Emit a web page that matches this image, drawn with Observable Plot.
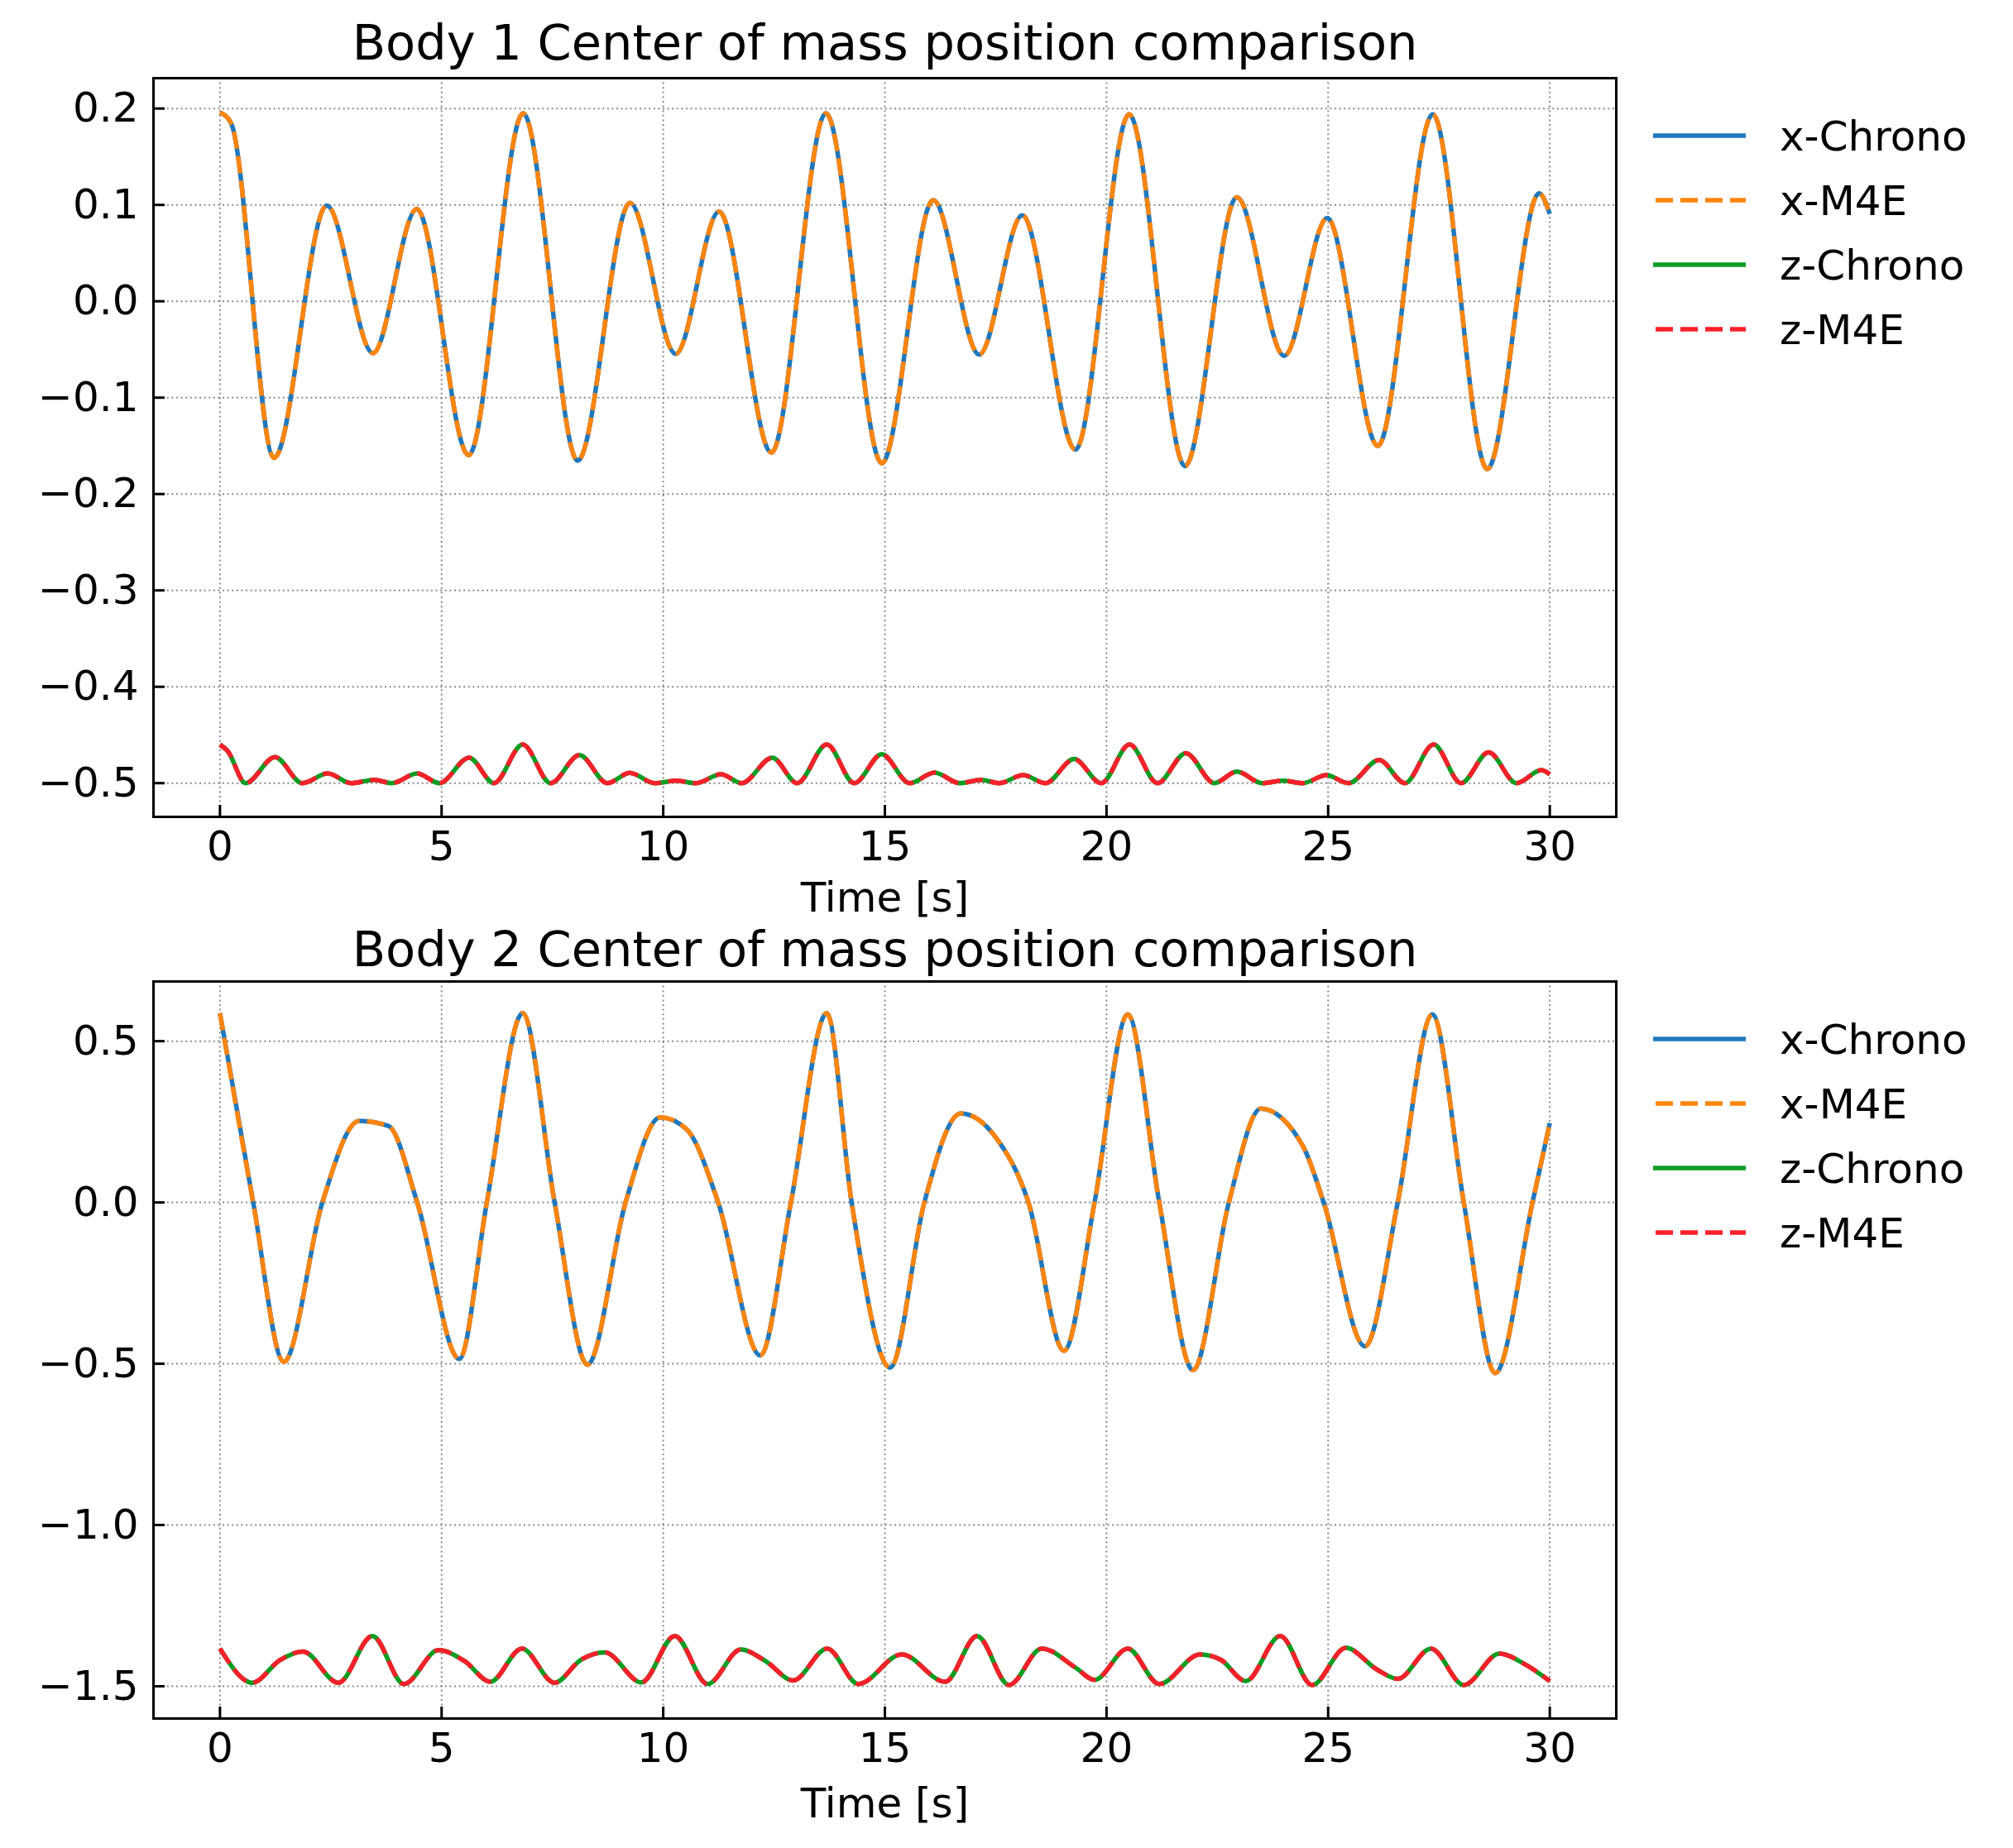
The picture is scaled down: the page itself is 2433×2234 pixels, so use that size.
<!DOCTYPE html>
<html>
<head>
<meta charset="utf-8">
<script src="https://cdn.jsdelivr.net/npm/d3@7"></script>
<script src="https://cdn.jsdelivr.net/npm/@observablehq/plot@0.6"></script>
<style>
  html, body { margin: 0; padding: 0; background: #ffffff; }
  #wrap { position: relative; width: 2433px; height: 2234px; font-family: "DejaVu Sans"; }
  #wrap svg { position: absolute; left: 0; display: block; }
</style>
</head>
<body>
<div id="wrap"></div>
<script>
// ---------- tick values ----------
const timeTicks = [0, 5, 10, 15, 20, 25, 30];
const body1YTicks = [-0.5, -0.4, -0.3, -0.2, -0.1, 0.0, 0.1, 0.2];
const body2YTicks = [-1.5, -1.0, -0.5, 0.0, 0.5];

// ---------- series ----------
const seriesNames = ["x-Chrono", "x-M4E", "z-Chrono", "z-M4E"];
const seriesColors = ["#1f78be", "#ff850d", "#0c9c22", "#f8202a"];

// Body 1, x position [time, value] (read at extrema)
const body1XChrono = [
  [0, 0.196], [0.25, 0.185], [1.22, -0.1625], [2.41, 0.0993], [3.45, -0.0538], [4.44, 0.0956],
  [5.61, -0.1597], [6.84, 0.195], [8.07, -0.1654], [9.25, 0.102], [10.28, -0.0546],
  [11.26, 0.093], [12.44, -0.157], [13.67, 0.195], [14.93, -0.168], [16.09, 0.105],
  [17.13, -0.0552], [18.10, 0.0893], [19.30, -0.154], [20.51, 0.194], [21.77, -0.171],
  [22.94, 0.108], [24.01, -0.0566], [24.98, 0.0864], [26.12, -0.150], [27.36, 0.194],
  [28.59, -0.174], [29.76, 0.112], [30.0, 0.0907]
];
// M4E is indistinguishable from Chrono in the picture
const body1XM4E = body1XChrono.map(d => d.slice());

// Body 1, z position
const body1ZChrono = [
  [0, -0.460], [0.17, -0.4665], [0.58, -0.500], [1.24, -0.473], [1.86, -0.500], [2.43, -0.490],
  [2.96, -0.500], [3.48, -0.4966], [3.88, -0.500], [4.45, -0.490], [4.95, -0.500],
  [5.62, -0.4736], [6.18, -0.500], [6.83, -0.460], [7.46, -0.500], [8.11, -0.4708],
  [8.74, -0.500], [9.25, -0.4894], [9.81, -0.500], [10.29, -0.4974], [10.74, -0.500],
  [11.30, -0.4908], [11.77, -0.500], [12.46, -0.4736], [13.02, -0.500], [13.69, -0.460],
  [14.31, -0.500], [14.93, -0.470], [15.56, -0.500], [16.12, -0.489], [16.69, -0.500],
  [17.17, -0.4966], [17.58, -0.500], [18.12, -0.4917], [18.62, -0.500], [19.27, -0.475],
  [19.88, -0.500], [20.52, -0.460], [21.15, -0.500], [21.79, -0.4688], [22.43, -0.500],
  [22.94, -0.488], [23.51, -0.500], [23.98, -0.4974], [24.43, -0.500], [24.96, -0.4917],
  [25.46, -0.500], [26.15, -0.476], [26.73, -0.500], [27.38, -0.460], [28.00, -0.500],
  [28.62, -0.468], [29.25, -0.500], [29.81, -0.4865], [30.0, -0.4908]
];
const body1ZM4E = body1ZChrono.map(d => d.slice());

// Body 2, x position
const body2XChrono = [
  [0, 0.587], [0.75, 0.0], [1.44, -0.494], [2.31, 0.0], [3.14, 0.253], [3.80, 0.237],
  [4.45, 0.0], [5.40, -0.485], [6.02, 0.0], [6.83, 0.587], [7.55, 0.0], [8.29, -0.503],
  [9.15, 0.0], [9.93, 0.264], [10.52, 0.228], [11.24, 0.0], [12.19, -0.474], [12.88, 0.0],
  [13.69, 0.587], [14.25, 0.0], [15.12, -0.512], [15.89, 0.0], [16.71, 0.276], [17.50, 0.202],
  [18.24, 0.0], [19.04, -0.460], [19.73, 0.0], [20.48, 0.583], [21.19, 0.0], [21.95, -0.520],
  [22.76, 0.0], [23.48, 0.291], [24.43, 0.175], [24.90, 0.0], [25.83, -0.446], [26.57, 0.0],
  [27.35, 0.583], [28.06, 0.0], [28.77, -0.529], [29.61, 0.0], [30.0, 0.246]
];
const body2XM4E = body2XChrono.map(d => d.slice());

// Body 2, z position
const body2ZChrono = [
  [0, -1.383], [0.73, -1.489], [1.36, -1.418], [1.87, -1.392], [2.67, -1.489],
  [3.44, -1.344], [4.15, -1.493], [4.93, -1.388], [5.52, -1.422], [6.10, -1.486],
  [6.81, -1.383], [7.55, -1.489], [8.14, -1.418], [8.68, -1.395], [9.51, -1.488],
  [10.26, -1.344], [11.00, -1.493], [11.75, -1.386], [12.31, -1.422], [12.93, -1.482],
  [13.70, -1.383], [14.40, -1.493], [15.38, -1.401], [16.36, -1.486], [17.08, -1.344],
  [17.80, -1.496], [18.54, -1.383], [19.31, -1.443], [19.73, -1.480], [20.48, -1.383],
  [21.19, -1.493], [22.11, -1.401], [22.58, -1.418], [23.14, -1.484], [23.92, -1.344],
  [24.64, -1.496], [25.40, -1.381], [26.10, -1.448], [26.57, -1.477], [27.32, -1.383],
  [28.06, -1.496], [28.86, -1.399], [29.43, -1.431], [30.0, -1.484]
];
const body2ZM4E = body2ZChrono.map(d => d.slice());

// ---------- layout ----------
const W = 2433, ML = 185, MR = 480;
const fmt1 = d3.format(".1f");

function toRows(arr, name) { return arr.map(([t, v]) => ({t, v, series: name})); }

function makePanel(cfg) {
  const plotW = W - ML - MR;
  const plotH = cfg.height - cfg.mt - cfg.mb;
  const seriesData = [
    toRows(cfg.xc, seriesNames[0]),
    toRows(cfg.xm, seriesNames[1]),
    toRows(cfg.zc, seriesNames[2]),
    toRows(cfg.zm, seriesNames[3])
  ];
  const gridStyle = {stroke: "#8a8a8a", strokeOpacity: 1, strokeWidth: 2, strokeDasharray: "2 3.6"};
  const lineMarks = seriesData.map((rows, i) => Plot.line(rows, {
    x: "t", y: "v", curve: "monotone-x",
    stroke: seriesColors[i], strokeWidth: 5.5,
    strokeDasharray: i % 2 === 1 ? "21 9" : null,
    strokeLinecap: "butt", strokeLinejoin: "round"
  }));
  const svg = Plot.plot({
    width: W, height: cfg.height,
    marginTop: cfg.mt, marginBottom: cfg.mb, marginLeft: ML, marginRight: MR,
    style: {fontFamily: "DejaVu Sans", color: "black", background: "transparent", overflow: "visible"},
    x: {domain: [-1.5, 31.5]},
    y: {domain: cfg.yDomain},
    marks: [
      Plot.gridX({ticks: timeTicks, ...gridStyle}),
      Plot.gridY({ticks: cfg.yTicks, ...gridStyle}),
      ...lineMarks,
      Plot.ruleX(timeTicks, {insetTop: plotH - 14, stroke: "black", strokeWidth: 3}),
      Plot.ruleY(cfg.yTicks, {insetRight: plotW - 14, stroke: "black", strokeWidth: 3}),
      Plot.axisX({ticks: timeTicks, tickSize: 0, tickPadding: 17, fontSize: 50, label: null, tickFormat: d => String(d)}),
      Plot.axisY({ticks: cfg.yTicks, tickSize: 0, tickPadding: 18, fontSize: 50, label: null, tickFormat: fmt1}),
      Plot.frame({stroke: "black", strokeWidth: 3}),
      Plot.text([cfg.title], {frameAnchor: "top", lineAnchor: "middle", dy: cfg.titleDy, fontSize: 59}),
      Plot.text(["Time [s]"], {frameAnchor: "bottom", lineAnchor: "middle", dy: cfg.labelDy, fontSize: 50})
    ]
  });
  svg.style.top = cfg.top + "px";
  // legend to the right of the frame
  const g = d3.select(svg).append("g")
    .attr("font-family", "DejaVu Sans").attr("font-size", 50).attr("text-anchor", "start");
  seriesNames.forEach((name, i) => {
    const yRow = cfg.mt + 70 + 78 * i;
    g.append("line")
      .attr("x1", 1998).attr("x2", 2110).attr("y1", yRow).attr("y2", yRow)
      .attr("stroke", seriesColors[i]).attr("stroke-width", 5.5)
      .attr("stroke-dasharray", i % 2 === 1 ? "21 9" : null)
      .attr("stroke-dashoffset", i % 2 === 1 ? -3 : null);
    g.append("text").attr("x", 2151).attr("y", yRow + 18)
      .attr("fill", "black").attr("text-anchor", "start").style("text-anchor", "start").text(name);
  });
  document.getElementById("wrap").appendChild(svg);
}

makePanel({
  title: "Body 1 Center of mass position comparison",
  xc: body1XChrono, xm: body1XM4E, zc: body1ZChrono, zm: body1ZM4E,
  yDomain: [-0.535, 0.2315], yTicks: body1YTicks,
  top: 0, height: 1120, mt: 94, mb: 133, titleDy: -41, labelDy: 98
});
makePanel({
  title: "Body 2 Center of mass position comparison",
  xc: body2XChrono, xm: body2XM4E, zc: body2ZChrono, zm: body2ZM4E,
  yDomain: [-1.6, 0.685], yTicks: body2YTicks,
  top: 1120, height: 1114, mt: 66, mb: 157, titleDy: -37, labelDy: 103
});
</script>
</body>
</html>
